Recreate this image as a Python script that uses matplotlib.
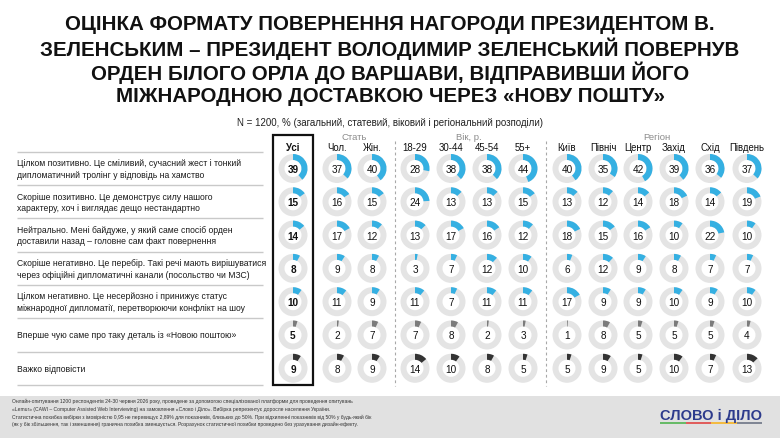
import matplotlib
matplotlib.use("Agg")
import matplotlib.pyplot as plt
from matplotlib.patches import Wedge, Rectangle

# ---------------- data ----------------
title_lines = [
    "ОЦІНКА ФОРМАТУ ПОВЕРНЕННЯ НАГОРОДИ ПРЕЗИДЕНТОМ В.",
    "ЗЕЛЕНСЬКИМ – ПРЕЗИДЕНТ ВОЛОДИМИР ЗЕЛЕНСЬКИЙ ПОВЕРНУВ",
    "ОРДЕН БІЛОГО ОРЛА ДО ВАРШАВИ, ВІДПРАВИВШИ ЙОГО",
    "МІЖНАРОДНОЮ ДОСТАВКОЮ ЧЕРЕЗ «НОВУ ПОШТУ»",
]
subtitle = "N = 1200, % (загальний, статевий, віковий і регіональний розподіли)"

row_labels = [
    "Цілком позитивно. Це сміливий, сучасний жест і тонкий\nдипломатичний тролінг у відповідь на хамство",
    "Скоріше позитивно. Це демонструє силу нашого\nхарактеру, хоч і виглядає дещо нестандартно",
    "Нейтрально. Мені байдуже, у який саме спосіб орден\nдоставили назад – головне сам факт повернення",
    "Скоріше негативно. Це перебір. Такі речі мають вирішуватися\nчерез офіційні дипломатичні канали (посольство чи МЗС)",
    "Цілком негативно. Це несерйозно і принижує статус\nміжнародної дипломатії, перетворюючи конфлікт на шоу",
    "Вперше чую саме про таку деталь із «Новою поштою»",
    "Важко відповісти",
]

col_labels = ["Усі", "Чол.", "Жін.", "18-29", "30-44", "45-54", "55+",
              "Київ", "Північ", "Центр", "Захід", "Схід", "Південь"]
group_labels = ["Стать", "Вік, р.", "Регіон"]

overall = [39, 15, 14, 8, 10, 5, 9]
male    = [37, 16, 17, 9, 11, 2, 8]
female  = [40, 15, 12, 8, 9, 7, 9]
age_18_29 = [28, 24, 13, 3, 11, 7, 14]
age_30_44 = [38, 13, 17, 7, 7, 8, 10]
age_45_54 = [38, 13, 16, 12, 11, 2, 8]
age_55p   = [44, 15, 12, 10, 11, 3, 5]
kyiv   = [40, 13, 18, 6, 17, 1, 5]
north  = [35, 12, 15, 12, 9, 8, 9]
center = [42, 14, 16, 9, 9, 5, 5]
west   = [39, 18, 10, 8, 10, 5, 10]
east   = [36, 14, 22, 7, 9, 5, 7]
south  = [37, 19, 10, 7, 10, 4, 13]

columns = [overall, male, female, age_18_29, age_30_44, age_45_54, age_55p,
           kyiv, north, center, west, east, south]

footer_lines = [
    "Онлайн-опитування 1200 респондентів 24-30 червня 2026 року, проведене за допомогою спеціалізованої платформи для проведення опитувань",
    "«Lemur» (CAWI – Computer Assisted Web Interviewing) на замовлення «Слово і Діло». Вибірка репрезентує доросле населення України.",
    "Статистична похибка вибірки з імовірністю 0,95 не перевищує 2,89% для показників, близьких до 50%. При відхиленні показників від 50% у будь-який бік",
    "(як у бік збільшення, так і зменшення) гранична похибка зменшується. Розрахунок статистичної похибки проведено без урахування дизайн-ефекту.",
]
logo_text = "СЛОВО і ДІЛО"

# ---------------- layout / style ----------------
W, H = 780, 439
BLUE = "#35b0e2"
RING = "#e4e4e4"
row_colors = [BLUE, BLUE, BLUE, BLUE, BLUE, "#7b7b7b", "#333333"]

col_x = [293, 337, 372, 415, 451, 487, 523, 567, 603, 638, 674, 710, 747]
group_x = [(col_x[1] + col_x[2]) / 2, (col_x[3] + col_x[6]) / 2, (col_x[7] + col_x[12]) / 2]
row0, row_step = 169.5, 33.3
R_OUT, R_W = 14.5, 6.0

NARROW = ["Liberation Sans Narrow", "Liberation Sans", "DejaVu Sans"]
SANS = ["Liberation Sans", "DejaVu Sans"]

fig = plt.figure(figsize=(W / 100, H / 100), dpi=100)
ax = fig.add_axes([0, 0, 1, 1])
ax.set_xlim(0, W)
ax.set_ylim(H, 0)
ax.axis("off")

# title
for i, line in enumerate(title_lines):
    ax.text(W / 2, 25 + 24 * i, line, ha="center", va="center",
            fontsize=14.8, fontweight="bold", family=NARROW, color="#111111")
ax.text(W / 2, 123, subtitle, ha="center", va="center", fontsize=7.0,
        family=NARROW, color="#222222")

# group headers and column headers
for gx, g in zip(group_x, group_labels):
    ax.text(gx, 137.5, g, ha="center", va="center", fontsize=6.8,
            family=SANS, color="#8c8c8c")
for j, (cx, lab) in enumerate(zip(col_x, col_labels)):
    ax.text(cx, 148, lab, ha="center", va="center", fontsize=6.9,
            family=SANS, color="#111111", fontweight="bold" if j == 0 else "normal")

# separators
for k in range(len(row_labels) + 1):
    y = row0 - row_step / 2 + k * row_step
    ax.plot([17, 263], [y, y], color="#c9c9c9", lw=1.0, solid_capstyle="butt")
for xd in [395, 546]:
    ax.plot([xd, xd], [142, 387], color="#a8a8a8", lw=0.8, ls=(0, (2.5, 2.5)))

# row labels
for i, lab in enumerate(row_labels):
    y = row0 + i * row_step
    ax.text(17, y, lab, ha="left", va="center", fontsize=6.25, family=SANS,
            color="#1a1a1a", linespacing=1.35)

# donuts
for j, (cx, vals) in enumerate(zip(col_x, columns)):
    for i, v in enumerate(vals):
        cy = row0 + i * row_step
        ax.add_patch(Wedge((cx, cy), R_OUT, 0, 360, width=R_W, facecolor=RING,
                           edgecolor="none"))
        ax.add_patch(Wedge((cx, cy), R_OUT, -90, -90 + 3.6 * v, width=R_W,
                           facecolor=row_colors[i], edgecolor="none"))
        ax.text(cx, cy + 0.5, str(v), ha="center", va="center", fontsize=7.2,
                family=SANS, color="#111111",
                fontweight="bold" if j == 0 else "normal")

# box around "Усі"
ax.add_patch(Rectangle((273, 135.5), 39.5, 250.5, fill=False, edgecolor="#111111",
                       lw=1.6))

# footer band
ax.add_patch(Rectangle((0, 397), W, H - 397, facecolor="#e1e1e1", edgecolor="none"))
for i, line in enumerate(footer_lines):
    ax.text(12, 401.5 + 7.7 * i, line, ha="left", va="center", fontsize=3.6,
            family=NARROW, color="#333333")

# logo
ax.text(711, 416, logo_text, ha="center", va="center", fontsize=10.5,
        fontweight="bold", family=SANS, color="#2d3b8c")
seg_colors = ["#5cb85c", "#e0504f", "#f5b731", "#767d8c"]
x0, seg_w = 660, 25.5
for k, c in enumerate(seg_colors):
    ax.plot([x0 + k * seg_w, x0 + (k + 1) * seg_w], [424.5, 424.5], color=c,
            lw=1.3, solid_capstyle="butt")

fig.savefig("out.png", dpi=100)
